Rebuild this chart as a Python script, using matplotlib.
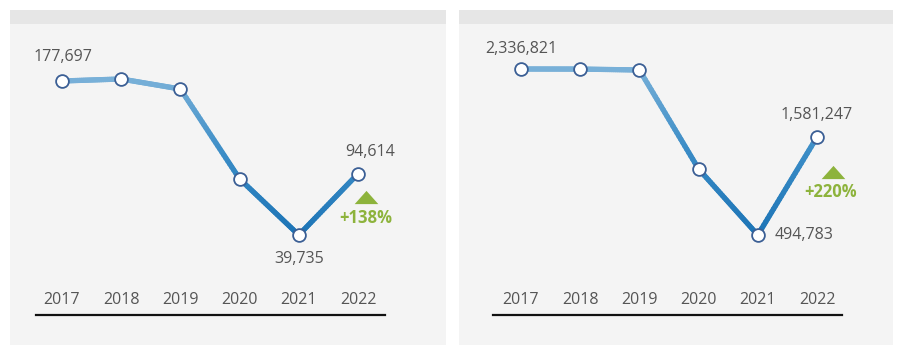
import matplotlib
matplotlib.use("Agg")
import matplotlib.pyplot as plt
import numpy as np
from matplotlib.collections import LineCollection
from matplotlib.colors import LinearSegmentedColormap
from matplotlib.patches import Rectangle
import matplotlib.transforms as mtransforms

years = [2017, 2018, 2019, 2020, 2021, 2022]
left_values = [177697, 179500, 170500, 90000, 39735, 94614]
right_values = [2336821, 2336000, 2325800, 1227200, 494783, 1581247]
left_change = "+138%"
right_change = "+220%"
left_labels = {2017: "177,697", 2022: "94,614", 2021: "39,735"}
right_labels = {2017: "2,336,821", 2022: "1,581,247", 2021: "494,783"}

W, H = 900, 353
fig = plt.figure(figsize=(9, 3.53), dpi=100)
fig.patch.set_facecolor("white")
plt.rcParams['font.family'] = ['Open Sans', 'DejaVu Sans']

TXT = "#555555"
GREEN = "#8db33c"
FS = 11.5
cmap = LinearSegmentedColormap.from_list("g", ["#1c74b6", "#3a8cc6", "#78b0d8"])
tri = [(-1, -0.56), (1, -0.56), (0, 0.56), (-1, -0.56)]


def fx(px):
    return px / W


def fy(py):
    return 1 - py / H


def panel(x0, x1, line_l, line_r, x2017, vals, ylo, yhi):
    fig.patches.append(Rectangle((fx(x0), fy(345)), fx(x1 - x0), (345 - 24) / H,
                                 transform=fig.transFigure, facecolor="#f4f4f4",
                                 edgecolor="none", zorder=-2))
    fig.patches.append(Rectangle((fx(x0), fy(24)), fx(x1 - x0), 14 / H,
                                 transform=fig.transFigure, facecolor="#e6e6e6",
                                 edgecolor="none", zorder=-2))
    top_px, bot_px = 30, 315
    ax = fig.add_axes([fx(line_l), fy(bot_px), fx(line_r - line_l), (bot_px - top_px) / H])
    ax.set_zorder(5)
    ax.set_facecolor("none")
    sp = 59.2
    ax.set_xlim(2017 - (x2017 - line_l) / sp, 2017 + (line_r - x2017) / sp)
    ax.set_ylim(ylo, yhi)
    for s in ["top", "left", "right"]:
        ax.spines[s].set_visible(False)
    ax.spines["bottom"].set_linewidth(1.6)
    ax.spines["bottom"].set_color("#111111")
    ax.set_xticks([])
    ax.set_yticks([])

    x = np.array(years, float)
    y = np.array(vals, float)
    vmin, vmax = y.min(), y.max()
    segs, cols = [], []
    n = 30
    for i in range(len(x) - 1):
        t = np.linspace(0, 1, n + 1)
        xs = x[i] + (x[i + 1] - x[i]) * t
        ys = y[i] + (y[i + 1] - y[i]) * t
        for k in range(n):
            segs.append([(xs[k], ys[k]), (xs[k + 1], ys[k + 1])])
            m = (ys[k] + ys[k + 1]) / 2
            cols.append(cmap((m - vmin) / (vmax - vmin)))
    lc = LineCollection(segs, colors=cols, linewidths=3.8, capstyle="round", zorder=2)
    ax.add_collection(lc)
    ax.plot(x, y, "o", ms=9.2, mfc="white", mec="#3b5f95", mew=1.3, zorder=3, clip_on=False)

    for yr in years:
        ax.text(yr, 15 / (bot_px - top_px), str(yr), transform=ax.get_xaxis_transform(),
                ha="center", va="center", fontsize=FS, color=TXT)
    return ax


axL = panel(10, 446, 36, 385, 62, left_values, -31940, 223390)
axR = panel(459, 893, 493, 842, 521, right_values, -392930, 2769600)


def lbl(ax, yr, vals, dx_pt, dy_pt, text, ha="center"):
    v = vals[years.index(yr)]
    ax.annotate(text, (yr, v), xytext=(dx_pt, dy_pt), textcoords="offset points",
                ha=ha, va="center", fontsize=FS, color=TXT)


lbl(axL, 2017, left_values, 1, 17, left_labels[2017])
lbl(axL, 2022, left_values, 8.6, 16, left_labels[2022])
lbl(axL, 2021, left_values, 0.5, -17.5, left_labels[2021])
lbl(axR, 2017, right_values, 0.5, 14.5, right_labels[2017])
lbl(axR, 2022, right_values, 0, 16, right_labels[2022])
lbl(axR, 2021, right_values, 12, 0, right_labels[2021], ha="left")


def change_mark(ax, yr, vals, dx_tri, dy_tri, dx_txt, dy_txt, text):
    v = vals[years.index(yr)]
    tr = mtransforms.offset_copy(ax.transData, fig=fig, x=dx_tri, y=dy_tri, units="points")
    ax.plot([yr], [v], marker=tri, ms=17, color=GREEN, mec="none", transform=tr,
            clip_on=False, zorder=4)
    ax.annotate(text, (yr, v), xytext=(dx_txt, dy_txt), textcoords="offset points",
                ha="center", va="center", fontsize=12, color=GREEN, fontweight="bold")


change_mark(axL, 2022, left_values, 5.8, -16.6, 5.8, -31.7, left_change)
change_mark(axR, 2022, right_values, 11.5, -25, 10, -39.6, right_change)

fig.savefig("out.png", dpi=100, facecolor="white")
